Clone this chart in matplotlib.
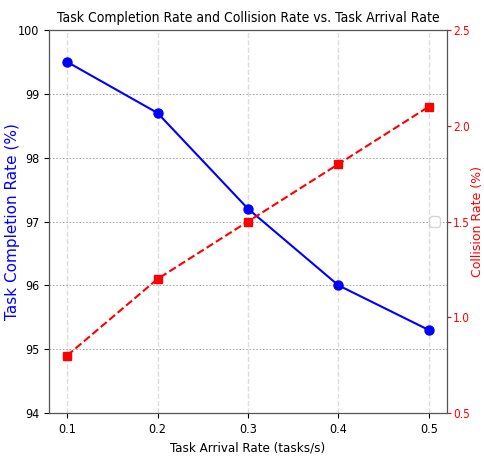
import matplotlib
matplotlib.use('Agg')
import matplotlib.pyplot as plt

arrival_rate = [0.1, 0.2, 0.3, 0.4, 0.5]
completion_rate = [99.5, 98.7, 97.2, 96.0, 95.3]
collision_rate = [0.8, 1.2, 1.5, 1.8, 2.1]

cond = dict(family='DejaVu Sans', fontstretch='condensed')

fig = plt.figure(figsize=(4.85, 4.61), dpi=100)
ax1 = fig.add_axes([0.101, 0.104, 0.8206, 0.831])
ax2 = ax1.twinx()

ax1.plot(arrival_rate, completion_rate, color='blue', marker='o', markersize=6.5,
         linestyle='-', linewidth=1.5)
ax2.plot(arrival_rate, collision_rate, color='red', marker='s', markersize=6,
         linestyle='--', linewidth=1.5)

ax1.set_ylim(94, 100)
ax2.set_ylim(0.5, 2.5)
ax1.set_xticks(arrival_rate)
ax1.set_yticks(range(94, 101))
ax2.set_yticks([0.5, 1.0, 1.5, 2.0, 2.5])

ax1.xaxis.grid(True, color='#dddddd', linestyle='--', linewidth=1.0)
ax1.yaxis.grid(True, color='#999999', linestyle=(0, (2, 2)), linewidth=0.6)

ax1.set_xlabel('Task Arrival Rate (tasks/s)', fontsize=9.5, **cond)
ax1.set_ylabel('Task Completion Rate (%)', color='blue', fontsize=11)
ax2.set_ylabel('Collision Rate (%)', color='red', fontsize=9)
ax1.yaxis.set_label_coords(-0.073, 0.5)
ax2.yaxis.set_label_coords(1.060, 0.5)
ax1.set_title('Task Completion Rate and Collision Rate vs. Task Arrival Rate',
              fontsize=10, **cond)

for lbl in ax1.get_xticklabels() + ax1.get_yticklabels():
    lbl.set_family('DejaVu Sans')
    lbl.set_fontstretch('condensed')
    lbl.set_fontsize(9)
ax2.tick_params(axis='y', colors='red', length=3, pad=1.5)
for lbl in ax2.get_yticklabels():
    lbl.set_family('DejaVu Sans')
    lbl.set_fontstretch('condensed')
    lbl.set_fontsize(8.5)

for sp in ax2.spines.values():
    sp.set_color('#555555')

ax2.legend(handles=[], loc='center right')

fig.savefig('out.png', dpi=100)
